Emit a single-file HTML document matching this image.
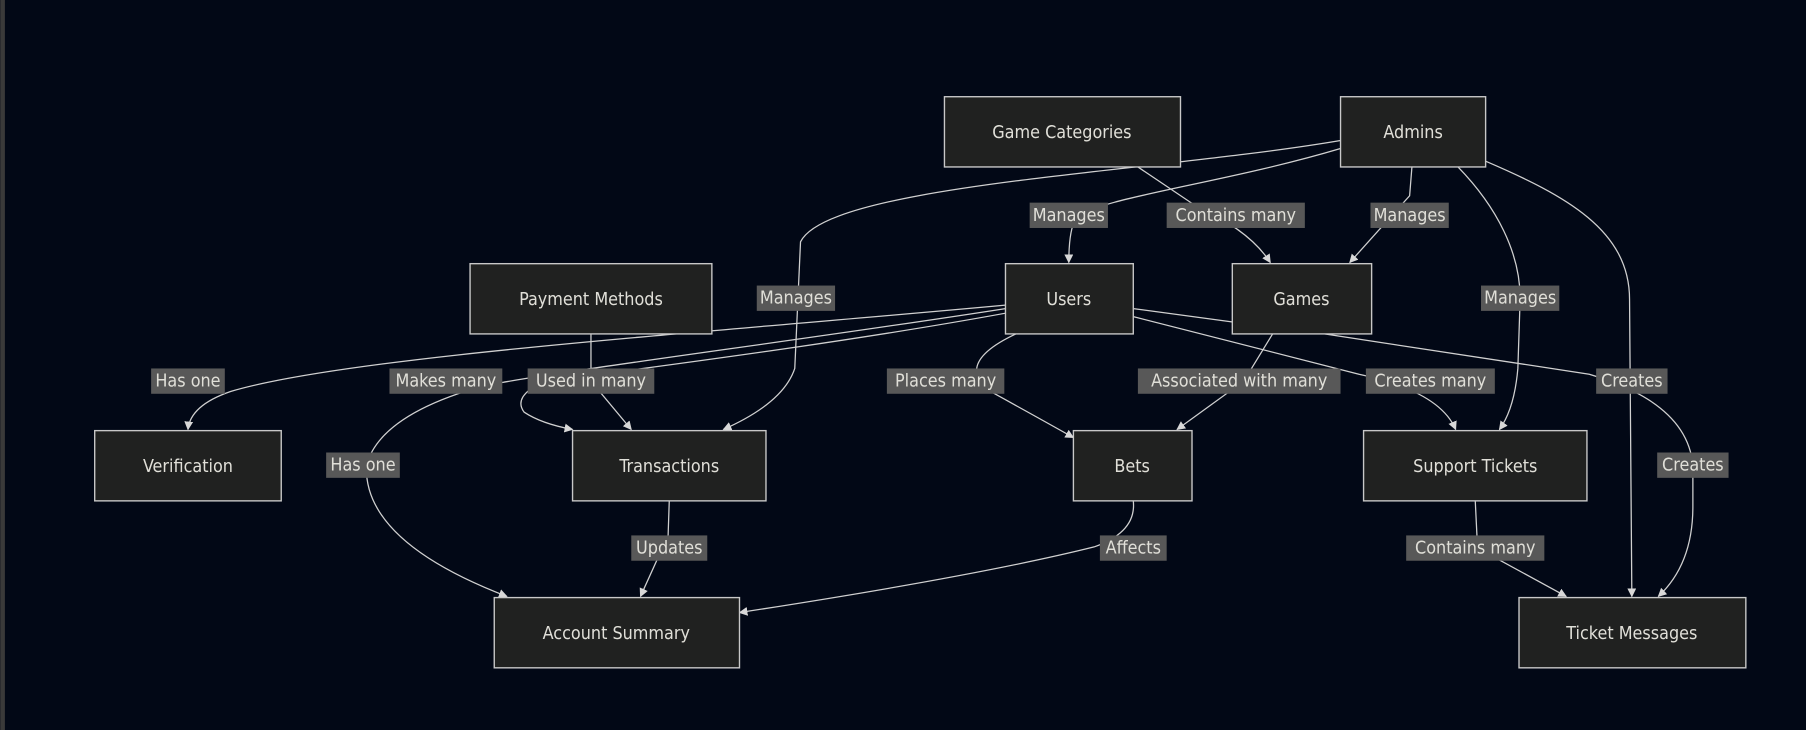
<!DOCTYPE html>
<html><head><meta charset="utf-8"><style>
html,body{margin:0;padding:0;background:#020816;}
svg{display:block;}
text{font-family:"DejaVu Sans Condensed","DejaVu Sans","Liberation Sans",sans-serif;font-size:15.5px;fill:#e0dfd8;text-anchor:middle;dominant-baseline:central;}
.e{fill:none;stroke:#d0d0d0;stroke-width:1.1;}
.n{fill:#202120;stroke:#c8c8c8;stroke-width:1.2;}
.l{fill:#585858;}
</style></head><body>
<svg width="1806" height="730" viewBox="0 0 1568 634" xmlns="http://www.w3.org/2000/svg">
<defs><marker id="a" viewBox="0 0 10 10" refX="9" refY="5" markerWidth="7" markerHeight="7" orient="auto-start-reverse"><path d="M0,0L10,5L0,10z" fill="#d8d8d8"/></marker></defs>
<rect x="0" y="0" width="4" height="634" fill="#3a3a3a"/>
<g class="e">
<path d="M1164,129 C1060,160 950,172 934,190 Q928,200 928,228" marker-end="url(#a)"/>
<path d="M988,145 L1040,180 Q1085,200 1103,228" marker-end="url(#a)"/>
<path d="M1226,145 L1224,170 L1172,228" marker-end="url(#a)"/>
<path d="M1164,122 C1000,150 720,160 695,210 L690,320 Q680,350 628,373" marker-end="url(#a)"/>
<path d="M1266,145 C1300,180 1320,220 1320,259 L1318,320 Q1315,355 1302,373" marker-end="url(#a)"/>
<path d="M1290,140 C1360,170 1415,200 1415,260 L1417,518" marker-end="url(#a)"/>
<path d="M873,265 C600,290 300,310 200,340 Q165,352 163,373" marker-end="url(#a)"/>
<path d="M873,268 C700,295 500,320 420,335 Q330,360 318,404 Q315,470 440,518" marker-end="url(#a)"/>
<path d="M873,272 C720,300 540,322 470,332 Q445,345 455,358 Q470,368 497,373" marker-end="url(#a)"/>
<path d="M513,290 L513,331 L548,373" marker-end="url(#a)"/>
<path d="M882,290 Q850,305 848,320 L860,340 Q900,362 932,380" marker-end="url(#a)"/>
<path d="M1105,290 L1080,331 L1022,373" marker-end="url(#a)"/>
<path d="M984,275 L1180,325 Q1250,340 1264,373" marker-end="url(#a)"/>
<path d="M984,268 L1080,281"/>
<path d="M1150,290 L1380,325 Q1465,350 1470,404 L1470,440 Q1470,490 1440,518" marker-end="url(#a)"/>
<path d="M581,435 L580,465 L556,518" marker-end="url(#a)"/>
<path d="M984,435 Q987,462 950,475 Q850,500 642,532" marker-end="url(#a)"/>
<path d="M1281,435 L1283,476 L1360,518" marker-end="url(#a)"/>
</g>
<g>
<rect class="n" x="820" y="84" width="205" height="61"/><text x="922" y="115">Game Categories</text>
<rect class="n" x="1164" y="84" width="126" height="61"/><text x="1227" y="115">Admins</text>
<rect class="n" x="408" y="229" width="210" height="61"/><text x="513" y="260">Payment Methods</text>
<rect class="n" x="873" y="229" width="111" height="61"/><text x="928" y="260">Users</text>
<rect class="n" x="1070" y="229" width="121" height="61"/><text x="1130" y="260">Games</text>
<rect class="n" x="82" y="374" width="162" height="61"/><text x="163" y="405">Verification</text>
<rect class="n" x="497" y="374" width="168" height="61"/><text x="581" y="405">Transactions</text>
<rect class="n" x="932" y="374" width="103" height="61"/><text x="983" y="405">Bets</text>
<rect class="n" x="1184" y="374" width="194" height="61"/><text x="1281" y="405">Support Tickets</text>
<rect class="n" x="429" y="519" width="213" height="61"/><text x="535" y="550">Account Summary</text>
<rect class="n" x="1319" y="519" width="197" height="61"/><text x="1417" y="550">Ticket Messages</text>
</g>
<g>
<rect class="l" x="894" y="176" width="68" height="22"/><text x="928" y="187">Manages</text>
<rect class="l" x="1013" y="176" width="120" height="22"/><text x="1073" y="187">Contains many</text>
<rect class="l" x="1190" y="176" width="68" height="22"/><text x="1224" y="187">Manages</text>
<rect class="l" x="657" y="248" width="68" height="22"/><text x="691" y="259">Manages</text>
<rect class="l" x="1286" y="248" width="68" height="22"/><text x="1320" y="259">Manages</text>
<rect class="l" x="131" y="320" width="64" height="22"/><text x="163" y="331">Has one</text>
<rect class="l" x="338" y="320" width="98" height="22"/><text x="387" y="331">Makes many</text>
<rect class="l" x="458" y="320" width="110" height="22"/><text x="513" y="331">Used in many</text>
<rect class="l" x="770" y="320" width="102" height="22"/><text x="821" y="331">Places many</text>
<rect class="l" x="988" y="320" width="176" height="22"/><text x="1076" y="331">Associated with many</text>
<rect class="l" x="1186" y="320" width="112" height="22"/><text x="1242" y="331">Creates many</text>
<rect class="l" x="1386" y="320" width="62" height="22"/><text x="1417" y="331">Creates</text>
<rect class="l" x="283" y="393" width="64" height="22"/><text x="315" y="404">Has one</text>
<rect class="l" x="1439" y="393" width="62" height="22"/><text x="1470" y="404">Creates</text>
<rect class="l" x="548" y="465" width="66" height="22"/><text x="581" y="476">Updates</text>
<rect class="l" x="955" y="465" width="58" height="22"/><text x="984" y="476">Affects</text>
<rect class="l" x="1221" y="465" width="120" height="22"/><text x="1281" y="476">Contains many</text>
</g>
</svg>
</body></html>
